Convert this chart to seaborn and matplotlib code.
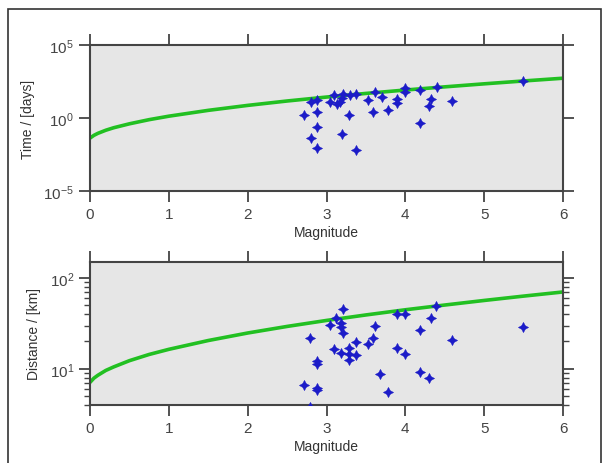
import matplotlib
matplotlib.use('Agg')
import matplotlib.pyplot as plt
from matplotlib.patches import Rectangle
from matplotlib.ticker import LogLocator, NullLocator, NullFormatter
import seaborn as sns

# * window curves
curve_mag = [0, 0.05, 0.1, 0.2, 0.3, 0.5, 0.75, 1, 1.5, 2, 2.5, 3, 3.5, 4, 4.5, 5, 5.5, 6]
curve_days = [0.042, 0.065, 0.089, 0.145, 0.215, 0.40, 0.77, 1.33, 3.34, 7.3, 14.6,
              27.2, 48.2, 82.4, 136, 219, 344, 531]
curve_km = [7.1, 7.9, 8.5, 9.6, 10.5, 12.3, 14.4, 16.4, 20.5, 24.8, 29.3,
            34.1, 39.2, 44.7, 50.4, 56.6, 63.2, 70.2]

# * events, upper panel
ev_mag_t = [2.71, 2.80, 2.88, 2.88, 2.88, 2.80, 2.88, 3.04, 3.10, 3.13, 3.17, 3.20,
            3.21, 3.30, 3.38, 3.29, 3.20, 3.38, 3.53, 3.59, 3.62, 3.70, 3.78, 3.89,
            3.89, 4.00, 4.00, 4.19, 4.19, 4.30, 4.33, 4.40, 4.59, 5.49]
ev_days = [1.7, 11.9, 17.8, 2.45, 0.26, 0.043, 0.0085, 13.2, 38, 9.1, 13.2, 22,
           44, 38, 44, 1.6, 0.08, 0.0069, 17.8, 2.45, 58, 26, 3.5, 20,
           10.7, 107, 63, 85, 0.46, 6.9, 20, 130, 15.5, 355]

# * events, lower panel
ev_mag_d = [3.21, 3.12, 3.04, 3.19, 3.19, 3.21, 3.61, 2.79, 3.59, 3.53, 3.38, 3.09,
            3.29, 3.19, 3.29, 3.38, 3.29, 2.88, 2.88, 3.68, 2.71, 2.88, 2.88, 3.78,
            2.79, 3.89, 4.00, 4.33, 4.39, 4.19, 3.89, 4.00, 4.19, 4.30, 4.59, 5.49]
ev_km = [46, 36.5, 30.3, 32.2, 28.8, 24.5, 29.5, 21.9, 21.9, 18.8, 19.8, 16.6,
         17, 14.9, 14.6, 14.3, 12.6, 12.3, 11.3, 8.7, 6.6, 6.1, 5.8, 5.6,
         3.8, 40.5, 39.8, 36.5, 49, 27.1, 17, 14.7, 9.3, 7.9, 21, 29]

sns.set_theme(style='ticks')
plt.rcParams['font.family'] = ['Liberation Sans', 'DejaVu Sans']
plt.rcParams['mathtext.fontset'] = 'custom'
plt.rcParams['mathtext.rm'] = 'Liberation Sans'
plt.rcParams['mathtext.it'] = 'Liberation Sans:italic'
plt.rcParams['axes.unicode_minus'] = False

W, H = 610, 464
fig = plt.figure(figsize=(W / 100, H / 100), dpi=100)
fig.patches.append(Rectangle((8 / W, -0.1), 593 / W, 1.1 - 10 / H, transform=fig.transFigure,
                             fill=False, edgecolor='#333333', linewidth=1.2))

ax1 = fig.add_axes([90 / W, 1 - 192 / H, 473 / W, 146 / H])
ax2 = fig.add_axes([90 / W, 1 - 406 / H, 473 / W, 143 / H])

green = '#22c022'
blue = '#1c1cc8'
star = (4, 1, 0)

sns.lineplot(x=curve_mag, y=curve_days, ax=ax1, color=green, linewidth=2.6)
sns.scatterplot(x=ev_mag_t, y=ev_days, ax=ax1, marker=star, s=55, color=blue,
                edgecolor=blue, linewidth=0.3, zorder=3)
sns.lineplot(x=curve_mag, y=curve_km, ax=ax2, color=green, linewidth=2.6)
sns.scatterplot(x=ev_mag_d, y=ev_km, ax=ax2, marker=star, s=55, color=blue,
                edgecolor=blue, linewidth=0.3, zorder=3)

ax1.set_yscale('log')
ax1.set_ylim(1e-5, 1e5)
ax1.set_yticks([1e-5, 1, 1e5])
ax1.yaxis.set_minor_locator(NullLocator())
ax1.set_ylabel('Time / [days]', fontsize=10, color='#333333', labelpad=6)

ax2.set_yscale('log')
ax2.set_ylim(4, 150)
ax2.yaxis.set_major_locator(LogLocator(base=10))
ax2.yaxis.set_minor_locator(LogLocator(base=10, subs=range(2, 10)))
ax2.yaxis.set_minor_formatter(NullFormatter())
ax2.set_ylabel('Distance / [km]', fontsize=10, color='#333333', labelpad=6)

for ax in (ax1, ax2):
    ax.set_facecolor('#e6e6e6')
    ax.set_xlim(0, 6)
    ax.set_xticks(range(7))
    ax.set_xlabel('Magnitude', fontsize=10, color='#333333', labelpad=3)
    for sp in ax.spines.values():
        sp.set_color('#444444')
        sp.set_linewidth(1.5)
    ax.tick_params(which='both', direction='out', top=True, right=True,
                   labeltop=False, labelright=False, color='#444444',
                   labelcolor='#444444', labelsize=11)
    ax.tick_params(which='major', length=8, width=1.3)
    ax.tick_params(which='minor', length=4, width=1)

fig.savefig('out.png', dpi=100)
